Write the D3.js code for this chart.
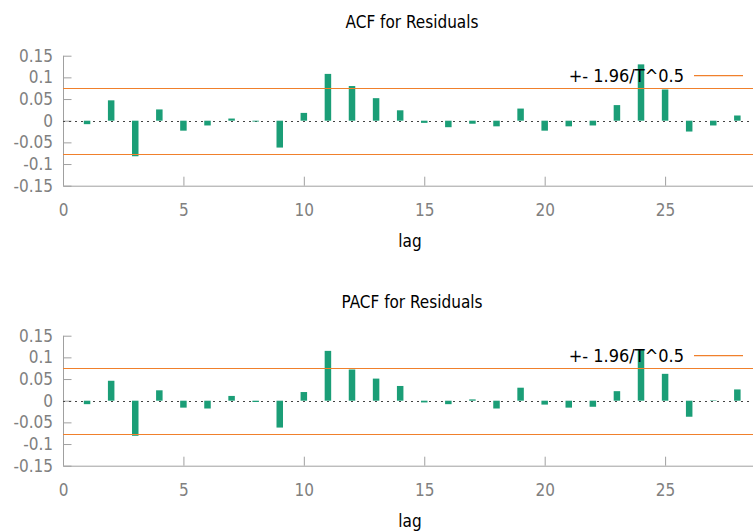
<!DOCTYPE html>
<html><head><meta charset="utf-8">
<script src="https://cdn.jsdelivr.net/npm/d3@7"></script>
<style>
body{margin:0;background:#fff;}
svg text{font-family:"DejaVu Sans Condensed","DejaVu Sans",sans-serif;font-stretch:condensed;}
</style></head>
<body>
<script>
const lags = d3.range(1, 29);
const acfValues = [-0.008, 0.047, -0.082, 0.026, -0.023, -0.011, 0.005, -0.002, -0.062, 0.018,
  0.108, 0.080, 0.052, 0.024, -0.005, -0.015, -0.007, -0.013, 0.028, -0.023,
  -0.013, -0.011, 0.036, 0.130, 0.072, -0.025, -0.011, 0.012];
const pacfValues = [-0.008, 0.046, -0.081, 0.024, -0.016, -0.018, 0.011, -0.003, -0.062, 0.020,
  0.115, 0.072, 0.051, 0.034, -0.004, -0.008, 0.003, -0.018, 0.030, -0.009,
  -0.016, -0.014, 0.022, 0.118, 0.062, -0.037, 0.001, 0.026];
const bandValue = 0.0765;
const yTicks = [-0.15, -0.1, -0.05, 0, 0.05, 0.1, 0.15];
const yTickLabels = ["-0.15", "-0.1", "-0.05", "0", "0.05", "0.1", "0.15"];
const xTicks = [0, 5, 10, 15, 20, 25];
const titles = ["ACF for Residuals", "PACF for Residuals"];
const legendLabel = "+- 1.96/T^0.5";
const xLabel = "lag";

const W = 753, H = 531;
const svg = d3.select("body").append("svg").attr("width", W).attr("height", H);

const x = d3.scaleLinear().domain([0, 28.65]).range([63, 753]);
const green = "#1b9e77", orange = "#f0802c", axisGray = "#a0a0a0", textGray = "#808080";

function panel(values, title, offset) {
  const g = svg.append("g").attr("transform", `translate(0,${offset})`);
  const y = d3.scaleLinear().domain([-0.15, 0.15]).range([185.7, 55.7]);

  g.append("text").attr("x", 412).attr("y", 28).attr("text-anchor", "middle")
    .attr("font-size", 17).attr("fill", "#000").text(title);

  const yAxis = d3.axisLeft(y).tickValues(yTicks).tickSize(-8)
    .tickFormat((d, i) => yTickLabels[i]).tickPadding(10);
  const ya = g.append("g").attr("transform", `translate(${x(0)},0)`).call(yAxis);
  ya.select(".domain").attr("stroke", axisGray).attr("d", `M0.5,${y(0.15)}V${y(-0.15)}`);
  ya.selectAll(".tick line").attr("stroke", axisGray).attr("transform", "translate(0.5,0)");
  ya.selectAll(".tick text").attr("fill", textGray).attr("font-size", 17)
    .attr("font-family", null).attr("x", -10);

  const xAxis = d3.axisBottom(x).tickValues(xTicks).tickSize(-9).tickPadding(18);
  const xa = g.append("g").attr("transform", `translate(0,${y(-0.15)})`).call(xAxis);
  xa.select(".domain").attr("stroke", axisGray).attr("d", `M${x(0)},0.5H${W}`);
  xa.selectAll(".tick line").attr("stroke", axisGray);
  xa.selectAll(".tick text").attr("fill", textGray).attr("font-size", 17)
    .attr("font-family", null);

  g.append("text").attr("x", 410).attr("y", 247).attr("text-anchor", "middle")
    .attr("font-size", 17).attr("fill", "#000").text(xLabel);

  g.append("line").attr("x1", x(0)).attr("x2", W).attr("y1", Math.round(y(0)) + 0.5).attr("y2", Math.round(y(0)) + 0.5)
    .attr("stroke", "#444").attr("stroke-width", 1).attr("stroke-dasharray", "2,4");

  g.selectAll("rect.bar").data(values).enter().append("rect").attr("class", "bar")
    .attr("x", (d, i) => x(lags[i]) - 3.25).attr("width", 6.5)
    .attr("y", d => y(Math.max(0, d))).attr("height", d => Math.abs(y(d) - y(0)))
    .attr("fill", green);

  [bandValue, -bandValue].forEach(v => {
    const yy = Math.round(y(v)) + 0.5;
    g.append("line").attr("x1", x(0)).attr("x2", W).attr("y1", yy).attr("y2", yy)
      .attr("stroke", orange).attr("stroke-width", 1).attr("shape-rendering", "crispEdges");
  });

  g.append("text").attr("x", 684).attr("y", 82).attr("text-anchor", "end")
    .attr("font-size", 18).attr("fill", "#000").text(legendLabel);
  g.append("line").attr("x1", 694).attr("x2", 743).attr("y1", 75.7).attr("y2", 75.7)
    .attr("stroke", orange).attr("stroke-width", 1.3);
}

panel(acfValues, titles[0], 0);
panel(pacfValues, titles[1], 280);
</script>
</body></html>
